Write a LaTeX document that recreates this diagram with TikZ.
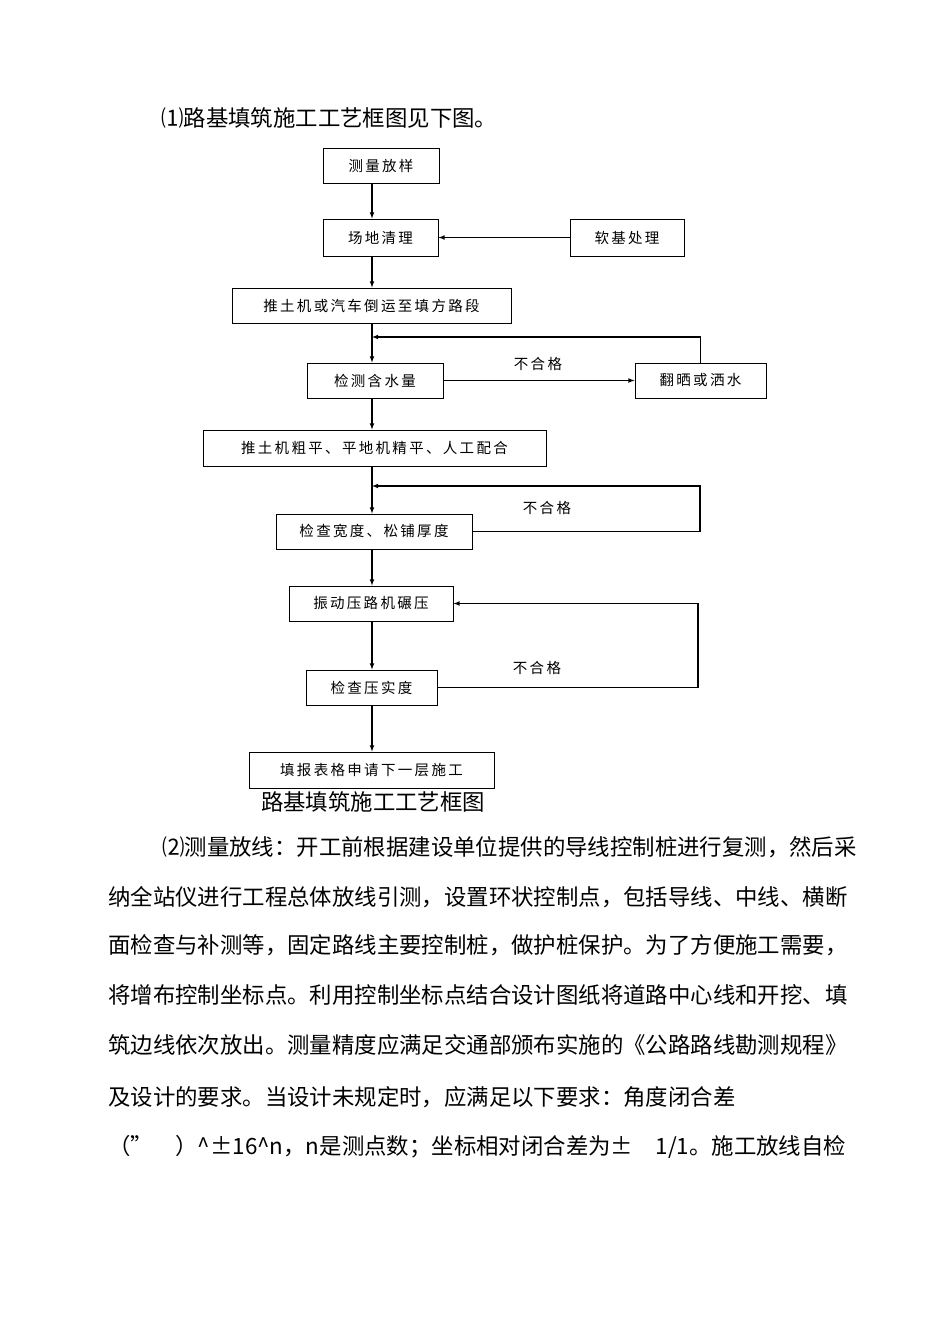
\documentclass[tikz,border=0pt]{standalone}
\usepackage{fontspec}
\setmainfont{Liberation Serif}
\newfontfamily\cjk{Noto Sans CJK SC}
\newfontfamily\cjkwide[LetterSpace=16]{Noto Sans CJK SC}
\XeTeXlinebreaklocale "zh"
\newcommand\boxfont{\cjkwide\fontsize{14.5}{14.5}\selectfont}
\newcommand\parafont{\cjk\fontsize{22.4}{22.4}\selectfont\XeTeXlinebreakskip=0pt plus 3pt\relax}
\tikzset{
  box/.style={draw, line width=1pt, inner sep=0pt, minimum height=35pt, font=\boxfont},
  flow/.style={->, line width=1.1pt},
  tag/.style={font=\boxfont},
  para/.style={anchor=west, inner sep=0pt, font=\parafont}
}
\begin{document}
\begin{tikzpicture}[x=1pt, y=-1pt, >=latex]
	\useasboundingbox[fill=white] (0,0) rectangle (950,1344);
	\node[para] (head) at (161,118) {⑴路基填筑施工工艺框图见下图。};
	% flow chart
	\coordinate (axis) at (372,0);
	\node[box, minimum width=116pt] (ms) at (381,165.5) {测量放样};
	\node[box, minimum width=115pt, minimum height=37pt] (cd) at (380.5,237.5) {场地清理};
	\node[box, minimum width=114pt, minimum height=37pt] (rj) at (627,237.5) {软基处理};
	\node[box, minimum width=279pt] (ty) at (371.5,305.5) {推土机或汽车倒运至填方路段};
	\node[box, minimum width=136pt] (js) at (375,380.5) {检测含水量};
	\node[box, minimum width=131pt] (fs) at (700.5,380.5) {翻晒或洒水};
	\node[box, minimum width=343pt, minimum height=36pt] (cp) at (374.5,448) {推土机粗平、平地机精平、人工配合};
	\node[box, minimum width=196pt] (kd) at (374,531.5) {检查宽度、松铺厚度};
	\node[box, minimum width=164pt] (zd) at (371,603.5) {振动压路机碾压};
	\node[box, minimum width=131pt] (ys) at (371.5,687.5) {检查压实度};
	\node[box, minimum width=245pt, minimum height=36pt] (tb) at (371.5,770) {填报表格申请下一层施工};
	\node[para, anchor=center] (cap) at (373,802) {路基填筑施工工艺框图};

	\draw[flow] (ms.south -| axis) -- (cd.north -| axis);
	\draw[flow] (rj.west) -- (cd.east);
	\draw[flow] (cd.south -| axis) -- (ty.north -| axis);
	\draw[flow] (ty.south -| axis) -- (js.north -| axis);
	\draw[flow] (js.south -| axis) -- (cp.north -| axis);
	\draw[flow] (cp.south -| axis) -- (kd.north -| axis);
	\draw[flow] (kd.south -| axis) -- (zd.north -| axis);
	\draw[flow] (zd.south -| axis) -- (ys.north -| axis);
	\draw[flow] (ys.south -| axis) -- (tb.north -| axis);

	% loops back
	\coordinate (j1) at (372,337);
	\coordinate (j2) at (372,486);
	\coordinate (r2) at (700,486);
	\coordinate (r3) at (698,0);
	\draw[flow] (js.east) -- (fs.west);
	\draw[flow] (fs.north) |- (j1);
	\draw[flow] (kd.east) -| (r2) -- (j2);
	\draw[flow] (ys.east) -| (r3 |- zd.east) -- (zd.east);
	\node[tag] (ng1) at (538,364) {不合格};
	\node[tag] (ng2) at (547,508) {不合格};
	\node[tag] (ng3) at (537,668) {不合格};

	% text below
	\node[para] (p1) at (162,847) {\makebox[695pt][s]{⑵测量放线：开工前根据建设单位提供的导线控制桩进行复测，然后采}};
	\node[para] (p2) at (108,897) {\makebox[746pt][s]{纳全站仪进行工程总体放线引测，设置环状控制点，包括导线、中线、横断}};
	\node[para] (p3) at (108,945) {\makebox[746pt][s]{面检查与补测等，固定路线主要控制桩，做护桩保护。为了方便施工需要，}};
	\node[para] (p4) at (108,995) {\makebox[746pt][s]{将增布控制坐标点。利用控制坐标点结合设计图纸将道路中心线和开挖、填}};
	\node[para] (p5) at (108,1045) {\makebox[748pt][s]{筑边线依次放出。测量精度应满足交通部颁布实施的《公路路线勘测规程》}};
	\node[para] (p6) at (108,1097) {\makebox[628pt][s]{及设计的要求。当设计未规定时，应满足以下要求：角度闭合差}};
	\node[para] (p7) at (108,1147) {\makebox[748pt][s]{（”　）\textasciicircum±16\textasciicircum n，n是测点数；坐标相对闭合差为±　1/1。施工放线自检}};
\end{tikzpicture}
\end{document}
